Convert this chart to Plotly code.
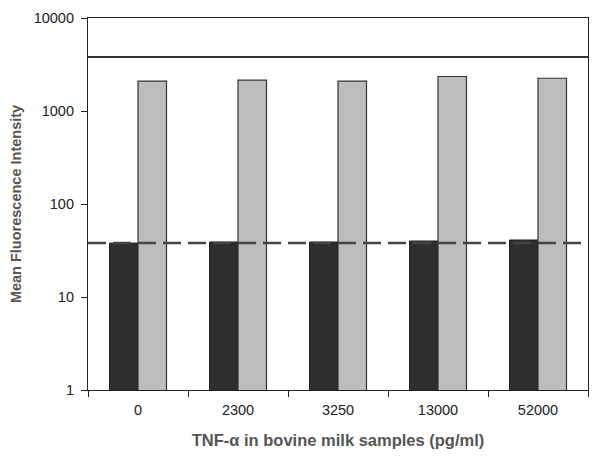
import plotly.graph_objects as go

categories = ["0", "2300", "3250", "13000", "52000"]
dark_values = [38, 39, 39, 40, 41]
light_values = [2100, 2150, 2100, 2350, 2250]
solid_level = [3800]
dashed_level = [38]
y_ticks = [1, 10, 100, 1000, 10000]

fig = go.Figure()
fig.add_trace(go.Bar(x=categories, y=dark_values, marker_color="#2e2e2e",
                     marker_line_color="#222", marker_line_width=1))
fig.add_trace(go.Bar(x=categories, y=light_values, marker_color="#bdbdbd",
                     marker_line_color="#333", marker_line_width=1.2))

for v in solid_level:
    fig.add_shape(type="line", xref="paper", yref="y", x0=0, x1=1, y0=v, y1=v,
                  line=dict(color="#333", width=2))
for v in dashed_level:
    fig.add_shape(type="line", xref="paper", yref="y", x0=0, x1=1, y0=v, y1=v,
                  line=dict(color="#444", width=2.5, dash="18px,7px"))

# page body adds an 8px margin, so the figure is a bit smaller than the window
fig.update_layout(
    width=592, height=455,
    margin=dict(l=80, r=12, t=10, b=73),
    paper_bgcolor="white", plot_bgcolor="white",
    showlegend=False,
    barmode="group", bargap=0.43, bargroupgap=0,
    font=dict(family="Liberation Sans, Arial", size=14, color="#222"),
)
fig.update_xaxes(
    type="category", tickson="boundaries", ticks="outside", ticklen=6,
    tickcolor="#222", showline=True, linecolor="#222", linewidth=1.2,
    mirror=True, showgrid=False, automargin=False,
    tickfont=dict(size=14.5, color="#222"), ticklabelstandoff=6,
    title=dict(text="<b>TNF-α in bovine milk samples (pg/ml)</b>",
               font=dict(size=16.5, color="#555"), standoff=17),
)
fig.update_yaxes(
    type="log", range=[0, 4], tickvals=y_ticks, ticktext=[str(t) for t in y_ticks],
    ticks="outside", ticklen=6, tickcolor="#222",
    showline=True, linecolor="#222", linewidth=1.2, mirror=True, showgrid=False,
    automargin=False,
    tickfont=dict(size=14.5, color="#222"), ticklabelstandoff=4,
    title=dict(text="<b>Mean Fluorescence Intensity</b>",
               font=dict(size=14.5, color="#555"), standoff=20),
)

fig.write_html("out.html")
